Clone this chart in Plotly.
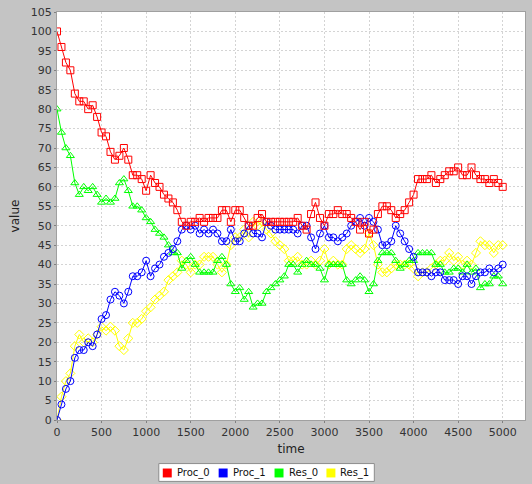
import plotly.graph_objects as go

time = list(range(0, 5001, 50))

proc_0 = [100, 96, 92, 90, 84, 82, 82, 80, 81, 78,
          74, 73, 69, 67, 68, 70, 67, 63, 63, 62,
          59, 63, 61, 60, 58, 57, 56, 54, 51, 50,
          51, 51, 52, 51, 52, 52, 52, 54, 54, 51,
          54, 54, 52, 50, 50, 52, 53, 51, 51, 51,
          51, 51, 51, 51, 52, 50, 49, 53, 56, 52,
          50, 53, 53, 54, 53, 53, 52, 51, 49, 51,
          48, 49, 53, 55, 55, 54, 52, 53, 54, 56,
          58, 62, 62, 62, 63, 61, 62, 63, 64, 64,
          65, 63, 63, 65, 63, 62, 62, 61, 62, 61,
          60]

proc_1 = [0, 4, 8, 10, 16, 18, 18, 20, 19, 22,
          26, 27, 31, 33, 32, 30, 33, 37, 37, 38,
          41, 37, 39, 40, 42, 43, 44, 46, 49, 50,
          49, 50, 48, 49, 48, 49, 48, 46, 46, 49,
          46, 46, 48, 50, 48, 48, 47, 51, 50, 49,
          49, 49, 49, 49, 48, 50, 50, 47, 44, 48,
          50, 47, 47, 46, 47, 48, 50, 51, 52, 50,
          52, 51, 49, 45, 45, 46, 50, 48, 46, 44,
          42, 38, 38, 38, 37, 38, 38, 36, 36, 36,
          35, 37, 37, 35, 37, 38, 38, 39, 38, 39,
          40]

res_0 = [80, 74, 70, 68, 61, 58, 60, 59, 60, 58,
         56, 57, 56, 57, 61, 62, 59, 55, 55, 54,
         52, 51, 49, 48, 47, 45, 43, 43, 39, 41,
         42, 40, 38, 38, 38, 38, 41, 42, 40, 35,
         33, 34, 31, 33, 29, 30, 30, 33, 34, 35,
         36, 37, 40, 40, 38, 40, 41, 40, 40, 39,
         36, 40, 40, 40, 40, 36, 35, 36, 37, 36,
         33, 35, 41, 43, 43, 43, 41, 39, 40, 41,
         41, 43, 43, 43, 43, 40, 40, 38, 38, 39,
         39, 38, 40, 38, 39, 34, 35, 35, 37, 37,
         35]

res_1 = [0, 6, 10, 12, 19, 22, 20, 21, 20, 22,
         24, 23, 24, 23, 19, 18, 21, 25, 25, 26,
         28, 29, 31, 32, 33, 36, 37, 38, 41, 40,
         38, 40, 40, 42, 42, 42, 40, 38, 40, 45,
         47, 47, 49, 47, 51, 50, 51, 49, 48, 46,
         45, 44, 41, 41, 42, 40, 40, 41, 40, 41,
         44, 40, 41, 40, 40, 44, 45, 44, 43, 44,
         48, 45, 40, 38, 38, 39, 40, 40, 40, 40,
         39, 37, 38, 38, 39, 40, 41, 41, 43, 41,
         42, 40, 41, 40, 43, 46, 45, 45, 43, 45,
         45]

series_names = ["Proc_0", "Proc_1", "Res_0", "Res_1"]
series_values = [proc_0, proc_1, res_0, res_1]
colors = ["#ff0000", "#0000ff", "#00ff00", "#ffff00"]
symbols = ["square-open", "circle-open", "triangle-up-open", "diamond-open"]
sizes = [7, 7, 7, 7]

x_ticks = list(range(0, 5001, 500))
y_ticks = list(range(0, 106, 5))

fig = go.Figure()
# draw in reverse order so that series 0 ends up on top
for name, vals, col, sym, sz in reversed(list(zip(series_names, series_values, colors, symbols, sizes))):
    fig.add_trace(go.Scatter(
        x=time, y=vals, name=name, mode="lines+markers",
        line=dict(color=col, width=1),
        marker=dict(symbol=sym, size=sz, color=col, line=dict(color=col, width=1)),
        showlegend=False,
    ))

W, H = 532, 484
L, R, T, B = 57, 526, 8, 420


def px2x(px):
    return (px - L) / (R - L)


def py2y(py):
    return (B - py) / (B - T)


shapes = []
annotations = []
# legend box
shapes.append(dict(type="rect", xref="paper", yref="paper",
                   x0=px2x(159), x1=px2x(375), y0=py2y(464), y1=py2y(482),
                   fillcolor="white", line=dict(color="#8c8c8c", width=1), layer="above"))
leg_sq = [163, 219, 275, 327]
for i, (name, col) in enumerate(zip(series_names, colors)):
    sx = leg_sq[i]
    shapes.append(dict(type="rect", xref="paper", yref="paper",
                       x0=px2x(sx), x1=px2x(sx + 9), y0=py2y(469), y1=py2y(478),
                       fillcolor=col, line=dict(width=0), layer="above"))
    annotations.append(dict(text=name, xref="paper", yref="paper",
                            x=px2x(sx + 12), y=py2y(473.5), xanchor="left", yanchor="middle",
                            showarrow=False, font=dict(size=10, color="#111111",
                                                       family="DejaVu Sans")))

fig.update_layout(
    width=W, height=H,
    margin=dict(l=L, r=W - R, t=T, b=H - B),
    paper_bgcolor="#c4c4c4",
    plot_bgcolor="white",
    font=dict(family="DejaVu Sans", size=11, color="#333333"),
    shapes=shapes,
    annotations=annotations,
    showlegend=False,
)
fig.update_xaxes(
    range=[0, 5250], tickvals=x_ticks, ticktext=[str(v) for v in x_ticks],
    showgrid=True, gridcolor="#d4d4d4", griddash="2px,2px", gridwidth=1,
    zeroline=False, showline=True, linecolor="#a0a0a0", mirror=True,
    ticks="outside", ticklen=2, tickcolor="#808080",
    tickfont=dict(size=11, color="#333333"),
    title=dict(text="time", font=dict(size=12, color="#222222"), standoff=6),
)
fig.update_yaxes(
    range=[0, 105], tickvals=y_ticks, ticktext=[str(v) for v in y_ticks],
    showgrid=True, gridcolor="#d4d4d4", griddash="2px,2px", gridwidth=1,
    zeroline=False, showline=True, linecolor="#a0a0a0", mirror=True,
    ticks="outside", ticklen=2, tickcolor="#808080",
    tickfont=dict(size=11, color="#333333"),
    title=dict(text="value", font=dict(size=12, color="#222222"), standoff=8),
)

fig.write_html("out.html")
